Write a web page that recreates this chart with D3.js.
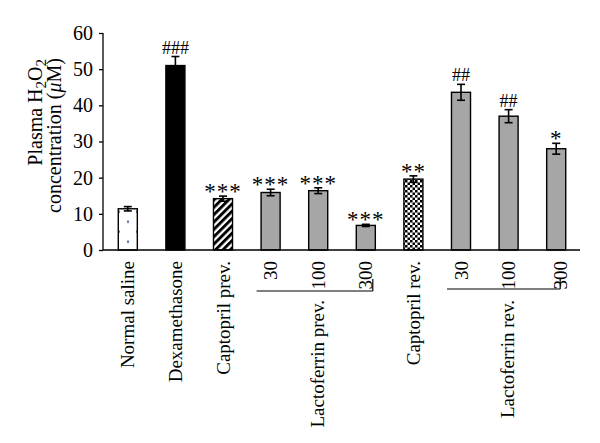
<!DOCTYPE html>
<html><head><meta charset="utf-8">
<script src="https://cdn.jsdelivr.net/npm/d3@7"></script>
<style>body{margin:0;background:#fff}svg{display:block}text{font-family:"Liberation Serif","Times New Roman",serif;fill:#000}</style>
</head><body>
<svg id="c" width="600" height="443"></svg>
<script>
const categories = ["Normal saline","Dexamethasone","Captopril prev.","30","100","300","Captopril rev.","30","100","300"];
const values = [11.4, 51.0, 14.2, 15.9, 16.4, 6.8, 19.6, 43.6, 37.0, 28.0];
const errors = [0.6, 2.5, 0.7, 0.9, 0.8, 0.3, 0.9, 2.2, 1.8, 1.5];
const significance = ["", "###", "***", "***", "***", "***", "**", "##", "##", "*"];
const groupLabels = ["Lactoferrin prev.", "Lactoferrin rev."];
const groupMembers = [[3,4,5],[7,8,9]];
const yTicks = [0,10,20,30,40,50,60];
const barFill = ["url(#dots)","#000","url(#stripes)","#a6a6a6","#a6a6a6","#a6a6a6","url(#checks)","#a6a6a6","#a6a6a6","#a6a6a6"];

const svg = d3.select("#c");
const defs = svg.append("defs");
const pd = defs.append("pattern").attr("id","dots").attr("patternUnits","userSpaceOnUse")
  .attr("width",18).attr("height",20).attr("x",119).attr("y",219.7);
pd.append("rect").attr("width",18).attr("height",20).attr("fill","#fff");
[[9,2],[0,12],[18,12]].forEach(p=>pd.append("circle").attr("cx",p[0]).attr("cy",p[1]).attr("r",1.2).attr("fill","#4f6f9c"));
const ps = defs.append("pattern").attr("id","stripes").attr("patternUnits","userSpaceOnUse")
  .attr("width",5.2).attr("height",5.2).attr("patternTransform","rotate(45)");
ps.append("rect").attr("width",5.2).attr("height",5.2).attr("fill","#fff");
ps.append("rect").attr("width",2.9).attr("height",5.2).attr("fill","#000");
const pc = defs.append("pattern").attr("id","checks").attr("patternUnits","userSpaceOnUse")
  .attr("width",5).attr("height",5);
pc.append("rect").attr("width",5).attr("height",5).attr("fill","#fff");
pc.append("rect").attr("width",2.5).attr("height",2.5).attr("fill","#000");
pc.append("rect").attr("x",2.5).attr("y",2.5).attr("width",2.5).attr("height",2.5).attr("fill","#000");

const x = d3.scaleBand().domain(d3.range(categories.length)).range([104,580]).paddingInner(0.6).paddingOuter(0.3);
const y = d3.scaleLinear().domain([0,60]).range([250,33]);
const cx = i => x(i) + x.bandwidth()/2;

const ya = svg.append("g").attr("transform","translate(103,0)")
  .call(d3.axisLeft(y).tickValues(yTicks).tickSize(4).tickPadding(6));
ya.select(".domain").attr("stroke","#000").attr("stroke-width",1.3).attr("d","M0,"+y(60)+"V"+y(0));
ya.selectAll(".tick line").attr("stroke","#000").attr("stroke-width",1.3);
ya.selectAll(".tick text").attr("font-size",20).attr("font-family","Liberation Serif").attr("fill","#000");

svg.selectAll("rect.bar").data(values).join("rect").attr("class","bar")
  .attr("x",(d,i)=>x(i)).attr("width",x.bandwidth())
  .attr("y",d=>y(d)).attr("height",d=>y(0)-y(d))
  .attr("fill",(d,i)=>barFill[i]).attr("stroke","#000").attr("stroke-width",1.4);

svg.append("line").attr("x1",103).attr("x2",580).attr("y1",y(0)).attr("y2",y(0)).attr("stroke","#000").attr("stroke-width",1.4);

const eb = svg.append("g").attr("stroke","#000").attr("stroke-width",1.6);
values.forEach((v,i)=>{
  const c = cx(i), e = errors[i];
  eb.append("line").attr("x1",c).attr("x2",c).attr("y1",y(v-e)).attr("y2",y(v+e));
  eb.append("line").attr("x1",c-4).attr("x2",c+4).attr("y1",y(v+e)).attr("y2",y(v+e));
  eb.append("line").attr("x1",c-4).attr("x2",c+4).attr("y1",y(v-e)).attr("y2",y(v-e));
});

svg.selectAll("text.sig").data(significance).join("text").attr("class","sig")
  .attr("x",(d,i)=>cx(i)).attr("y",(d,i)=>y(values[i]+errors[i]) + (d.startsWith("#")?-3:3))
  .attr("text-anchor","middle").attr("font-size",d=>d.startsWith("#")?18:23)
  .attr("letter-spacing",d=>d.startsWith("#")?0:1)
  .text(d=>d);

svg.selectAll("text.xl").data(categories).join("text").attr("class","xl")
  .attr("text-anchor","end").attr("font-size",19)
  .attr("transform",(d,i)=>`translate(${cx(i)+ (i===9?4:0)},${261}) rotate(-90)`)
  .attr("dy","0.35em").text(d=>d);

groupMembers.forEach((g,k)=>{
  const x1 = cx(g[0]) - 14, x2 = cx(g[g.length-1]) + (k===0?7:4);
  const yy = k===0?291:289;
  svg.append("line").attr("x1",x1).attr("x2",x2).attr("y1",yy).attr("y2",yy).attr("stroke","#000").attr("stroke-width",1.2);
  svg.append("line").attr("x1",x2).attr("x2",x2).attr("y1",279).attr("y2",yy).attr("stroke","#000").attr("stroke-width",1.2);
  svg.append("text").attr("text-anchor","end").attr("font-size",19)
    .attr("transform",`translate(${cx(g[1])-1},300) rotate(-90)`).attr("dy","0.35em").text(groupLabels[k]);
});

const t1 = svg.append("text").attr("text-anchor","end").attr("font-size",20)
  .attr("transform","translate(41.5,59) rotate(-90)");
t1.append("tspan").text("Plasma H");
t1.append("tspan").attr("font-size",15).attr("dy",4).text("2");
t1.append("tspan").attr("dy",-4).text("O");
t1.append("tspan").attr("font-size",15).attr("dy",4).text("2");
const t2 = svg.append("text").attr("text-anchor","end").attr("font-size",20)
  .attr("transform","translate(60.5,58) rotate(-90)");
t2.append("tspan").text("concentration (");
t2.append("tspan").attr("font-style","italic").text("μ");
t2.append("tspan").text("M)");
</script>
</body></html>
